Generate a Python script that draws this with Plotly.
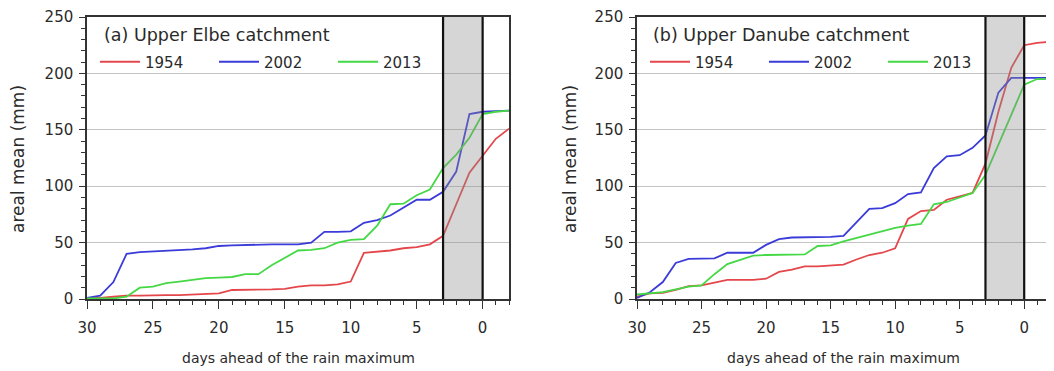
import plotly.graph_objects as go

days = list(range(30, -3, -1))

# (a) Upper Elbe catchment
elbe_1954 = [1, 1, 2, 3, 3, 3.5, 3.5, 3.5, 4, 4, 5, 8, 8, 8, 8.5, 9, 11, 12, 12, 13, 15.5,
             41, 42, 43, 45, 46, 48.5, 56, 84, 112, 127, 142, 151]
elbe_2002 = [1, 3, 15, 40, 41.5, 42, 42.5, 43.5, 44, 45, 47, 47.5, 48, 48.5, 48.5, 48.5, 48.5,
             50, 59.5, 59.5, 60, 67.5, 70, 74, 81, 88, 88, 95, 113, 164, 166, 166.5, 167]
elbe_2013 = [0.5, 0.5, 0.5, 2, 10, 11, 14, 15.5, 17, 18.5, 19, 19.5, 22, 22, 30, 36.5, 43,
             43.5, 45, 50, 52.5, 53, 65, 84, 84.5, 92, 97, 116, 128, 143, 164, 166, 167]

# (b) Upper Danube catchment
danube_1954 = [2, 5, 5.5, 8, 11.5, 12, 14.5, 17, 17, 17, 18, 24, 26, 29, 29, 30, 30.5,
               35, 39, 41, 45, 71, 78, 79, 88, 91, 94, 120, 166, 205, 225, 227, 228]
danube_2002 = [1, 6, 15, 32, 35.5, 36, 36, 41, 41, 41, 48, 53, 54.5, 54.5, 54.5, 55, 56,
               68, 80, 80.5, 85, 93, 94.5, 116, 126.5, 127.5, 134, 145, 183, 196, 196, 196, 196]
danube_2013 = [4, 5, 6, 8.5, 11, 12, 22, 31, 35, 38.5, 39, 39, 39, 39.5, 47, 47.5, 51,
               54, 57, 60.5, 63, 65, 66.5, 84, 86, 90, 94, 110, 137, 164, 190, 195, 195]

years = ["1954", "2002", "2013"]
colors = ["#e4474b", "#3b3bd9", "#45d845"]
panel_titles = ["(a) Upper Elbe catchment", "(b) Upper Danube catchment"]
x_title = "days ahead of the rain maximum"
y_title = "areal mean (mm)"
y_ticks = [0, 50, 100, 150, 200, 250]
x_ticks = [30, 25, 20, 15, 10, 5, 0]

W, H = 1054, 371
OX, OY = 8, 8   # page body margin offset
FONT = "DejaVu Sans"
TXT = "#2a2a2a"


def fx(p):
    return (p - OX) / W


def fy(p):
    return 1 - (p - OY) / H


fig = go.Figure()

panels = [("x", "y", "legend", [elbe_1954, elbe_2002, elbe_2013]),
          ("x2", "y2", "legend2", [danube_1954, danube_2002, danube_2013])]

for xa, ya, lg, series in panels:
    for name, col, vals in zip(years, colors, series):
        fig.add_trace(go.Scatter(x=days, y=vals, mode="lines", name=name,
                                 line=dict(color=col, width=1.8),
                                 xaxis=xa, yaxis=ya, legend=lg, showlegend=True))

# pixel geometry (target page pixels)
px_x = [(87, 509), (637, 1050)]
px_top, px_bot = 17, 299
dom_y = (fy(px_bot), fy(px_top))

axis_common = dict(showline=True, linecolor="#333333", linewidth=1.5, mirror=True,
                   tickfont=dict(family=FONT, size=15, color=TXT), ticks="outside",
                   tickcolor="#333333", tickwidth=1.3, zeroline=False, automargin=False)

for i, (xa, ya) in enumerate([("xaxis", "yaxis"), ("xaxis2", "yaxis2")]):
    xkey = "x" if i == 0 else "x2"
    ykey = "y" if i == 0 else "y2"
    x0p, x1p = px_x[i]
    fig.update_layout(**{
        xa: dict(domain=(fx(x0p), fx(x1p)), range=[30, -2], anchor=ykey, tickvals=x_ticks,
                 ticklen=8, showgrid=False, ticklabelstandoff=6,
                 minor=dict(dtick=1, tick0=0, ticks="outside", ticklen=4,
                            tickcolor="#333333", tickwidth=1.2, showgrid=False),
                 **axis_common),
        ya: dict(domain=dom_y, range=[0, 250], anchor=xkey, tickvals=y_ticks,
                 ticklen=6, showgrid=True, gridcolor="#c4c4c4", gridwidth=1,
                 ticklabelstandoff=3,
                 minor=dict(dtick=10, ticks="outside", ticklen=4,
                            tickcolor="#333333", tickwidth=1.2, showgrid=False),
                 **axis_common),
    })

    # shaded window between 3 days ahead and the maximum
    fig.add_shape(type="rect", xref=xkey, yref=ykey, x0=3, x1=0, y0=0, y1=250,
                  fillcolor="rgba(140,140,140,0.36)", line=dict(width=0), layer="above")
    for xv in (3, 0):
        fig.add_shape(type="line", xref=xkey, yref=ykey, x0=xv, x1=xv, y0=0, y1=250,
                      line=dict(color="#111111", width=2.2), layer="above")

    fig.add_annotation(text=panel_titles[i], xref="paper", yref="paper",
                       x=fx(102 if i == 0 else 651), y=fy(35),
                       xanchor="left", yanchor="middle", showarrow=False,
                       font=dict(family=FONT, size=17.5, color=TXT))
    # axis titles
    fig.add_annotation(text=x_title, xref="paper", yref="paper",
                       x=fx((x0p + x1p) / 2), y=fy(358),
                       xanchor="center", yanchor="middle", showarrow=False,
                       font=dict(family=FONT, size=14, color=TXT))
    fig.add_annotation(text=y_title, xref="paper", yref="paper",
                       x=fx(18 if i == 0 else 570), y=fy(159), textangle=-90,
                       xanchor="center", yanchor="middle", showarrow=False,
                       font=dict(family=FONT, size=17, color=TXT))

leg_common = dict(orientation="h", bgcolor="rgba(0,0,0,0)", borderwidth=0,
                  font=dict(family=FONT, size=15, color=TXT),
                  entrywidth=64, entrywidthmode="pixels", itemwidth=40,
                  xanchor="left", yanchor="middle", traceorder="normal")

fig.update_layout(
    width=W, height=H,
    margin=dict(l=0, r=0, t=0, b=0, autoexpand=False),
    paper_bgcolor="white", plot_bgcolor="white",
    legend=dict(x=fx(95), y=fy(62), **leg_common),
    legend2=dict(x=fx(645), y=fy(62), **leg_common),
)

fig.write_html("out.html")
